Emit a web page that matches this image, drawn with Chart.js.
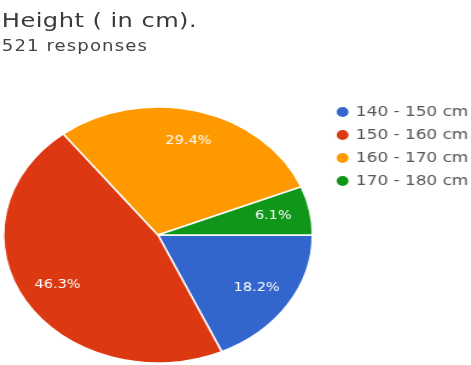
<!DOCTYPE html>
<html>
<head>
<meta charset="utf-8">
<script src="https://cdn.jsdelivr.net/npm/chart.js@4/dist/chart.umd.min.js"></script>
<style>
  html, body { margin: 0; padding: 0; background: #fff; overflow: hidden; }
  /* the reference is a horizontally stretched screenshot, so stretch the whole page the same way */
  #wrap { position: absolute; left: 0; top: 0; width: 390px; height: 365px;
          transform: scaleX(1.207); transform-origin: 0 0; }
  #title { position: absolute; left: 1.5px; top: 10px; font: 20px "DejaVu Sans"; line-height: 20px;
           letter-spacing: 0.37px; color: #3a3a3a; white-space: nowrap; }
  #subtitle { position: absolute; left: 1.5px; top: 39px; font: 15px "DejaVu Sans"; line-height: 15px;
              letter-spacing: 0.9px; color: #444; white-space: nowrap; }
  #box { position: absolute; left: -9px; top: 93px; width: 407px; height: 281px; }
</style>
</head>
<body>
<div id="wrap">
  <div id="title">Height ( in cm).</div>
  <div id="subtitle">521 responses</div>
  <div id="box"><canvas id="pie"></canvas></div>
</div>
<script>
// data (521 responses)
const categories = ['140 - 150 cm', '150 - 160 cm', '160 - 170 cm', '170 - 180 cm'];
const counts = [95, 241, 153, 32];
const percentLabels = ['18.2%', '46.3%', '29.4%', '6.1%'];
const sliceColors = ['#3366cc', '#dc3912', '#ff9900', '#109618'];

// draw the percentage text inside each slice
const sliceLabels = {
    id: 'sliceLabels',
    afterDatasetsDraw(chart) {
        const ctx = chart.ctx;
        const meta = chart.getDatasetMeta(0);
        ctx.save();
        ctx.fillStyle = '#ffffff';
        ctx.font = '12px "DejaVu Sans"';
        ctx.textAlign = 'center';
        ctx.textBaseline = 'middle';
        meta.data.forEach((arc, i) => {
            const p = arc.getProps(['x', 'y', 'startAngle', 'endAngle', 'outerRadius'], true);
            const mid = (p.startAngle + p.endAngle) / 2;
            const r = p.outerRadius * 0.76;
            ctx.fillText(percentLabels[i], p.x + Math.cos(mid) * r, p.y + Math.sin(mid) * r);
        });
        ctx.restore();
    }
};

new Chart(document.getElementById('pie'), {
    type: 'pie',
    data: {
        labels: categories,
        datasets: [{
            data: counts,
            backgroundColor: sliceColors,
            borderColor: '#ffffff',
            borderWidth: 1.5,
            radius: 128
        }]
    },
    options: {
        responsive: true,
        maintainAspectRatio: false,
        animation: false,
        rotation: 90, // first slice starts at 3 o'clock
        layout: { padding: { top: 3 } },
        plugins: {
            legend: {
                position: 'right',
                align: 'start',
                labels: {
                    usePointStyle: true,
                    pointStyle: 'circle',
                    boxWidth: 8,
                    boxHeight: 8,
                    padding: 9,
                    color: '#555',
                    font: { family: 'DejaVu Sans', size: 14 }
                }
            },
            tooltip: { enabled: false }
        }
    },
    plugins: [sliceLabels]
});
</script>
</body>
</html>
